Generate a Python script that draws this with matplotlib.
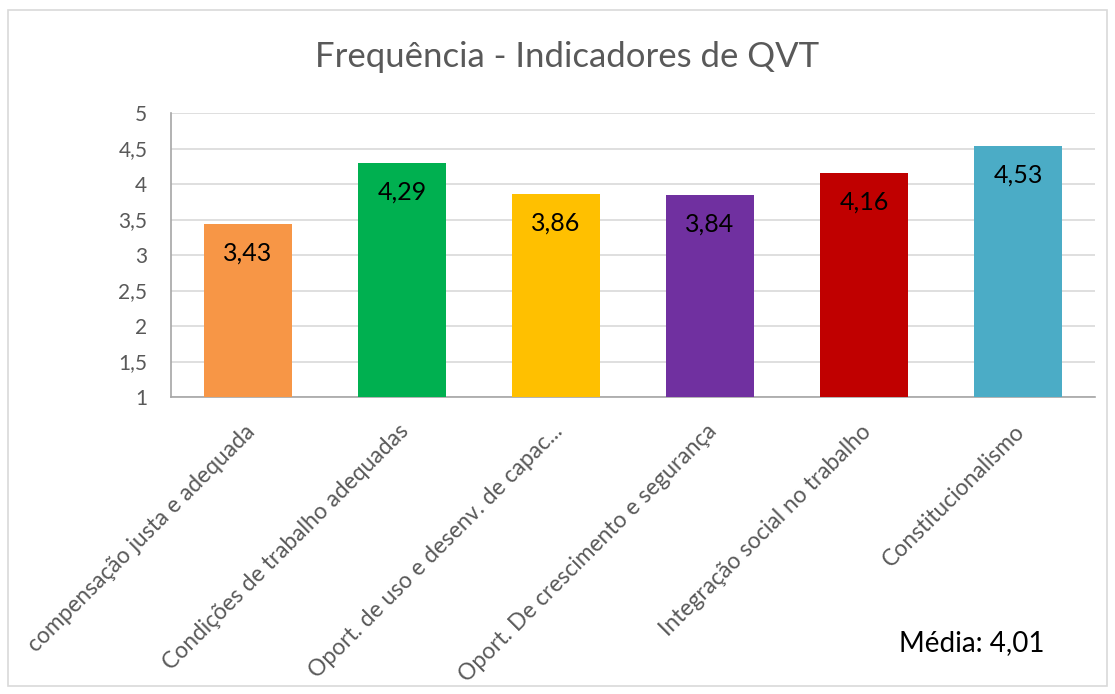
import matplotlib
matplotlib.use("Agg")
import matplotlib.pyplot as plt
from matplotlib.patches import Rectangle
from matplotlib.transforms import ScaledTranslation

categories = ["compensação justa e adequada", "Condições de trabalho adequadas",
              "Oport. de uso e desenv. de capac...", "Oport. De crescimento e segurança",
              "Integração social no trabalho", "Constitucionalismo"]
values = [3.43, 4.29, 3.86, 3.84, 4.16, 4.53]
colors = ["#F79646", "#00B050", "#FFC000", "#7030A0", "#C00000", "#4BACC6"]
yticks = [1, 1.5, 2, 2.5, 3, 3.5, 4, 4.5, 5]
title = "Frequência - Indicadores de QVT"
mean_text = "Média: 4,01"

plt.rcParams['font.family'] = ['Lato', 'DejaVu Sans']

fig = plt.figure(figsize=(11.15, 6.94), dpi=100)
fig.patches.append(Rectangle((8/1115, 1-686/694), 1099/1115, 676/694, transform=fig.transFigure,
                             fill=False, edgecolor="#D9D9D9", linewidth=1.2))
ax = fig.add_axes([171/1115, 1-397/694, 924/1115, 284/694])

x = list(range(len(categories)))
bars = ax.bar(x, [v - 1 for v in values], bottom=1, width=0.57, color=colors, zorder=3)
ax.set_xlim(-0.5, len(categories) - 0.5)
ax.set_ylim(1, 5)
ax.set_yticks(yticks)
ax.set_yticklabels([f"{t:g}".replace(".", ",") for t in yticks], fontsize=15, color="#595959")
ax.yaxis.grid(True, color="#D9D9D9", linewidth=1.2, zorder=0)
ax.tick_params(axis="y", length=0, pad=17)
ax.tick_params(axis="x", length=0, pad=17)
for s in ["top", "right"]:
    ax.spines[s].set_visible(False)
for s in ["left", "bottom"]:
    ax.spines[s].set_color("#A6A6A6")
    ax.spines[s].set_linewidth(1.2)

ax.set_xticks(x)
ax.set_xticklabels(categories, rotation=45, ha="right", rotation_mode="anchor",
                   fontsize=16.4, color="#595959")
off = ScaledTranslation(-4/100, 0, fig.dpi_scale_trans)
for lbl in ax.get_xticklabels():
    lbl.set_transform(lbl.get_transform() + off)

for xi, v in zip(x, values):
    ax.annotate(f"{v:.2f}".replace(".", ","), (xi, v), xytext=(0, -29),
                textcoords="offset pixels", ha="center", va="center", fontsize=18, color="black", zorder=4)

fig.text(567/1115, 1-57/694, title, ha="center", va="center", fontsize=25, color="#595959")
fig.text(972/1115, 1-643/694, mean_text, ha="center", va="center", fontsize=20, color="black")

fig.savefig("out.png", dpi=100)
